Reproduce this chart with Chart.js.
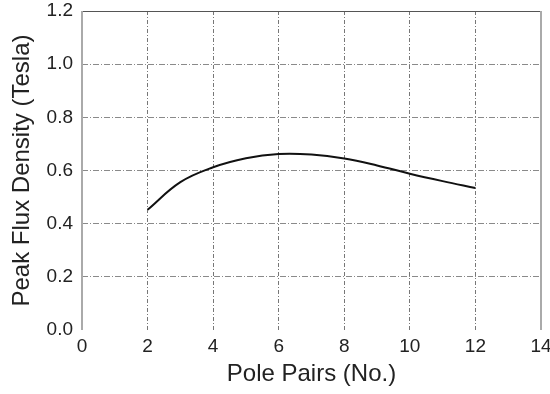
<!DOCTYPE html>
<html>
<head>
<meta charset="utf-8">
<script src="https://cdn.jsdelivr.net/npm/chart.js@4"></script>
<style>
  html, body { margin: 0; padding: 0; background: #fff; }
  #wrap { width: 550px; height: 394px; }
</style>
</head>
<body>
<div id="wrap"><canvas id="fluxChart"></canvas></div>
<script>
// values
const polePairs = [2, 3, 4, 5, 6, 7, 8, 9, 10, 11, 12];
const peakFlux = [0.452, 0.556, 0.612, 0.646, 0.662, 0.66, 0.645, 0.619, 0.588, 0.56, 0.534];
const xTicks = [0, 2, 4, 6, 8, 10, 12, 14];
const yTicks = [0, 0.2, 0.4, 0.6, 0.8, 1.0, 1.2];

const points = polePairs.map((p, i) => ({ x: p, y: peakFlux[i] }));

// frame: dark top line, light gray sides, nothing at the bottom
const framePlugin = {
  id: 'frame',
  afterDraw(chart) {
    const { ctx, chartArea: a } = chart;
    ctx.save();
    ctx.strokeStyle = '#555';
    ctx.lineWidth = 1;
    ctx.beginPath();
    ctx.moveTo(a.left, a.top + 0.5);
    ctx.lineTo(a.right, a.top + 0.5);
    ctx.stroke();
    ctx.strokeStyle = '#aaa';
    ctx.lineWidth = 2;
    ctx.beginPath();
    ctx.moveTo(a.left, a.top);
    ctx.lineTo(a.left, a.bottom);
    ctx.moveTo(a.right, a.top);
    ctx.lineTo(a.right, a.bottom);
    ctx.stroke();
    ctx.restore();
  }
};

const font = "'Liberation Sans', Arial, sans-serif";

new Chart(document.getElementById('fluxChart').getContext('2d'), {
  type: 'line',
  data: {
    datasets: [{
      data: points,
      borderColor: '#111',
      borderWidth: 2,
      pointRadius: 0,
      tension: 0.4,
      fill: false
    }]
  },
  options: {
    responsive: true,
    maintainAspectRatio: false,
    animation: false,
    layout: { padding: { left: 0, right: 9, top: 11, bottom: 0 } },
    plugins: { legend: { display: false }, tooltip: { enabled: false } },
    scales: {
      x: {
        type: 'linear',
        min: 0,
        max: 14,
        afterBuildTicks: s => { s.ticks = xTicks.map(v => ({ value: v })); },
        afterFit: s => { s.height = 64; s.paddingLeft = 0; s.paddingRight = 0; },
        grid: {
          drawTicks: false,
          color: c => (c.tick && (c.tick.value === 0 || c.tick.value === 14)) ? 'rgba(0,0,0,0)' : '#777',
          lineWidth: 1
        },
        border: { display: false, dash: [4, 2, 1, 2] },
        ticks: { padding: 5, color: '#222', font: { family: font, size: 19 } },
        title: {
          display: true,
          text: 'Pole Pairs (No.)',
          color: '#222',
          font: { family: font, size: 24 },
          padding: { top: 0, bottom: 5 }
        }
      },
      y: {
        min: 0,
        max: 1.2,
        afterBuildTicks: s => { s.ticks = yTicks.map(v => ({ value: v })); },
        afterFit: s => { s.width = 82; s.paddingTop = 0; s.paddingBottom = 0; },
        grid: {
          drawTicks: false,
          color: c => (c.tick && (c.tick.value === 0 || c.tick.value === 1.2)) ? 'rgba(0,0,0,0)' : '#8a8a8a',
          lineWidth: 1
        },
        border: { display: false, dash: [6, 2, 1, 2] },
        ticks: {
          padding: 9,
          color: '#222',
          font: { family: font, size: 19 },
          callback: v => v.toFixed(1)
        },
        title: {
          display: true,
          text: 'Peak Flux Density (Tesla)',
          color: '#222',
          font: { family: font, size: 24 },
          padding: { top: 8, bottom: 0 }
        }
      }
    }
  },
  plugins: [framePlugin]
});
</script>
</body>
</html>
